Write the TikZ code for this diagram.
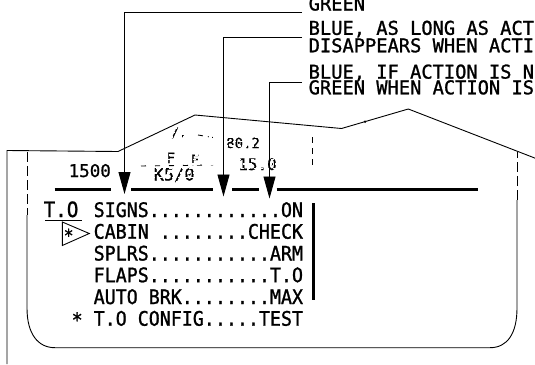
\documentclass[tikz,border=0pt]{standalone}
\usepackage{fontspec}
\newfontfamily\ecam{DejaVu Sans Mono}[FakeBold=0.8]
\newfontfamily\ecamchk{DejaVu Sans Mono}[FakeStretch=0.915,FakeBold=1.2]
\newfontfamily\ecamnote{DejaVu Sans Mono}[FakeStretch=0.985,FakeBold=1.2]
\usetikzlibrary{arrows.meta}
\begin{document}
\begin{tikzpicture}[x=1pt,y=-1pt,
  lead/.style={line width=0.9pt},
  pointer/.style={lead,-{Triangle[length=22pt,width=12pt]}},
  heavy/.style={line width=3pt,line cap=butt},
  outline/.style={line width=0.9pt},
  dashline/.style={outline,dash pattern=on 10pt off 4pt},
  note/.style={anchor=base west,inner sep=0pt,font=\ecamnote\fontsize{19}{20}\selectfont},
  chk/.style={anchor=base west,inner sep=0pt,font=\ecamchk\fontsize{20}{20}\selectfont},
  frag/.style={anchor=base west,inner sep=0pt,font=\ecam\fontsize{16}{18}\selectfont},
  eraser/.style={white,line width=1.4pt,dash pattern=on 3pt off 3.5pt}]
\useasboundingbox (0,0) rectangle (535,364);
\clip (0,0) rectangle (535,364);

% fragmented remnants
\node[frag,font=\ecam\fontsize{17}{18}\selectfont] (fk) at (153.5,180.5) {K5/0};
\node[frag,font=\ecam\fontsize{14}{16}\selectfont] (ff1) at (166.5,163) {F};
\node[frag,font=\ecam\fontsize{14}{16}\selectfont] (ff2) at (190.5,165) {F};
\node[frag,font=\ecam\fontsize{13}{16}\selectfont] (fa) at (171,137) {/.};
\node[frag,font=\ecam\fontsize{14}{16}\selectfont] (f80) at (226,148) {80.2};
\node[frag] (f15) at (238,170) {15.0};
\draw[outline,dash pattern=on 5pt off 5pt] (198,135) -- (216,138);
\draw[outline,dash pattern=on 5pt off 9pt] (141,166) -- (213,165);
\draw[outline,dash pattern=on 6pt off 5pt] (312.5,137) -- (312.5,165);
\foreach \yy [count=\i] in {128,132.5,...,183} {
  \draw[eraser,dash phase=\i*2pt] (150,\yy) -- (290,\yy);
}

% torn top outline
\draw[outline] (7,364) -- (7,150.5) -- (118,151.5) -- (195,115) -- (341.5,128.5)
  -- (408.3,109) -- (545,162);
\fill (365,121.7) circle (1.3pt);

% inner frame
\draw[dashline] (27,152) -- (27,215);
\draw[outline] (27,215) -- (27,308) .. controls (27,334) and (38,347.7) .. (55,347.7)
  -- (490,347.7) .. controls (507,347.7) and (517,334) .. (517,308) -- (517,200);
\draw[dashline] (517,200) -- (517,151.5);

% altitude
\node[frag,font=\ecam\fontsize{17.5}{18}\selectfont] (alt) at (68.5,177) {1500};

% heavy separator
\draw[heavy] (54.6,189.3) -- (111,189.3);
\draw[heavy] (131.4,189.3) -- (213.3,189.3);
\draw[heavy] (232,189.3) -- (259.4,189.3);
\draw[heavy] (276.5,189.3) -- (478,189.3);
\draw[heavy] (313.3,203.3) -- (313.3,300);

% checklist
\node[chk,font=\ecamchk\fontsize{21}{20}\selectfont] (to) at (43.5,217) {T.O};
\draw[outline] (45,220.5) -- (81.7,220.5);
\node[chk] (l1) at (93.5,217) {SIGNS............ON};
\node[chk] (l2) at (93.5,238.7) {CABIN ........CHECK};
\node[chk] (l3) at (93.5,260.5) {SPLRS...........ARM};
\node[chk] (l4) at (93.5,282.2) {FLAPS...........T.O};
\node[chk] (l5) at (93.5,304) {AUTO BRK........MAX};
\node[chk] (l6) at (93.5,325.7) {T.O CONFIG.....TEST};
\node[chk] (s6) at (71.5,327) {*};
\draw[outline] (62.3,222) -- (62.3,245.5) -- (89.3,233.5) -- cycle;
\node[chk,font=\ecamchk\fontsize{18}{20}\selectfont] (s2) at (63.5,242) {*};

% annotations
\node[note] (g1) at (308.5,10.5) {GREEN};
\node[note] (b1) at (308.5,34.8) {BLUE, AS LONG AS ACT};
\node[note] (d1) at (308.5,52.3) {DISAPPEARS WHEN ACTI};
\node[note] (b2) at (308.5,78.6) {BLUE, IF ACTION IS N};
\node[note] (g2) at (308.5,94.3) {GREEN WHEN ACTION IS};

\coordinate (c1) at (302,12.6);
\coordinate (c2) at (302,37.5);
\coordinate (c3) at (302,82);
\coordinate (t1) at (124.5,194);
\coordinate (t2) at (223.5,196.5);
\coordinate (t3) at (269.5,198.5);
\draw[pointer] (c1) -| (t1);
\draw[pointer] (c2) -| (t2);
\draw[pointer] (c3) -| (t3);
\end{tikzpicture}
\end{document}
